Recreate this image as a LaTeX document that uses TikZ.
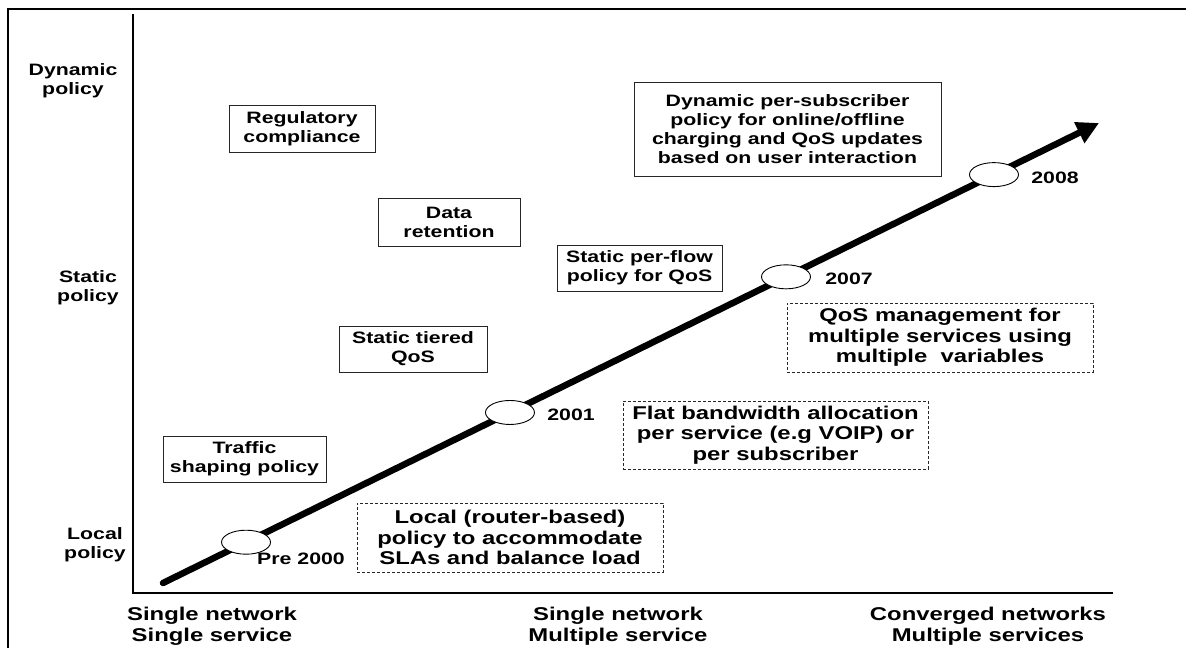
\documentclass[tikz,border=0pt]{standalone}
\usepackage{fontspec}
\setmainfont{Liberation Sans}[FakeStretch=1.29]
\usetikzlibrary{arrows.meta,shapes.geometric,calc}

\begin{document}
\begin{tikzpicture}[x=1pt,y=-1pt,
  every node/.style={align=center, inner sep=0pt},
  lbl/.style={font=\fontsize{16.5}{19}\selectfont\bfseries},
  biglbl/.style={font=\fontsize{18.5}{21}\selectfont\bfseries},
  solidbox/.style={draw=black!85, line width=1pt, fill=white,
    font=\fontsize{16.5}{19}\selectfont\bfseries},
  dashbox/.style={draw=black!85, line width=0.9pt, dash pattern=on 3pt off 2pt,
    font=\fontsize{18.5}{20.5}\selectfont\bfseries},
  milestone/.style={draw, ellipse, line width=0.9pt, fill=white,
    minimum width=49pt, minimum height=24pt},
  axisline/.style={line width=2.5pt},
  trend/.style={line width=6.5pt, line cap=round,
    -{Triangle[length=22pt,width=22pt]}},
]
\useasboundingbox (0,0) rectangle (1186,648);

% outer frame
\coordinate (frameTR) at (1186,8.5);
\coordinate (frameTL) at (8,8.5);
\coordinate (frameBL) at (8,648);
\draw[line width=2pt] (frameTR) -- (frameTL) -- (frameBL);

% axes
\coordinate (ytop) at (133,14);
\coordinate (origin) at (133,593);
\coordinate (xend) at (1113,593);
\draw[axisline] (ytop) -- (origin) -- (xend);

% vertical axis labels
\node[lbl] (ydyn) at (73,81) {Dynamic\\policy};
\node[lbl] (ystat) at (88,288) {Static\\policy};
\node[lbl] (yloc) at (95,545) {Local\\policy};

% horizontal axis labels
\node[biglbl] (xsingle) at (212,626) {Single network\\Single service};
\node[biglbl] (xmulti) at (618,626) {Single network\\Multiple service};
\node[biglbl] (xconv) at (988,626) {Converged networks\\Multiple services};

% trend arrow
\coordinate (tstart) at (163,583);
\coordinate (ttip) at (1099,123);
\draw[trend] (tstart) -- (ttip);

% milestones on the trend
\node[milestone] (m2000) at ($(tstart)!0.0887!(ttip)$) {};
\node[milestone] (m2001) at ($(tstart)!0.3707!(ttip)$) {};
\node[milestone] (m2007) at ($(tstart)!0.6656!(ttip)$) {};
\node[milestone] (m2008) at ($(tstart)!0.8878!(ttip)$) {};

\node[lbl] (l2000) at (301,559) {Pre 2000};
\node[lbl] (l2001) at (571,415) {2001};
\node[lbl] (l2007) at (849,279) {2007};
\node[lbl] (l2008) at (1055,178) {2008};

% policy boxes
\node[solidbox, minimum width=146pt, minimum height=47pt] (reg) at (302,128.5)
  {Regulatory\\compliance};
\node[solidbox, minimum width=142pt, minimum height=48pt] (data) at (449,222)
  {Data\\retention};
\node[solidbox, minimum width=148pt, minimum height=46pt] (tiered) at (413,349)
  {Static tiered\\QoS};
\node[solidbox, minimum width=163pt, minimum height=46pt] (traffic) at (244.5,459)
  {Traffic\\shaping policy};
\node[solidbox, minimum width=165pt, minimum height=46pt] (perflow) at (639.5,268)
  {Static per-flow\\policy for QoS};
\node[solidbox, minimum width=307pt, minimum height=94pt] (dynsub) at (787.5,129)
  {Dynamic per-subscriber\\policy for online/offline\\charging and QoS updates\\based on user interaction};

% dashed boxes
\node[dashbox, minimum width=306pt, minimum height=69pt] (qosm) at (940,337.5)
  {QoS management for\\multiple services using\\multiple~ variables};
\node[dashbox, minimum width=305pt, minimum height=68pt] (flat) at (775.5,435)
  {Flat bandwidth allocation\\per service (e.g VOIP) or\\per subscriber};
\node[dashbox, minimum width=306pt, minimum height=69pt] (local) at (510,537.5)
  {Local (router-based)\\policy to accommodate\\SLAs and balance load};
\end{tikzpicture}
\end{document}
